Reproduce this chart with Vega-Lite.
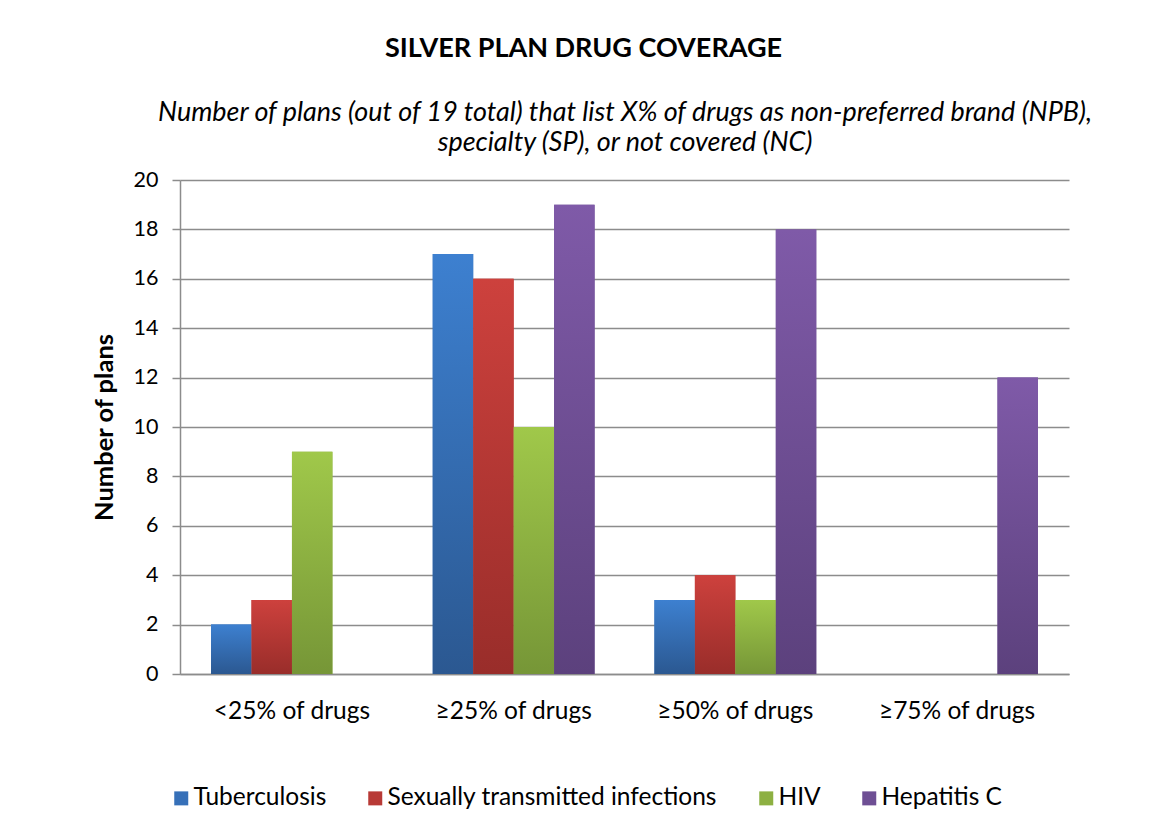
{
  "$schema": "https://vega.github.io/schema/vega-lite/v6.json",
  "width": 889,
  "height": 494,
  "autosize": {"type": "none"},
  "padding": {"left": 180, "top": 180, "right": 89, "bottom": 160},
  "background": "white",
  "title": {
    "text": "SILVER PLAN DRUG COVERAGE",
    "anchor": "middle",
    "frame": "group",
    "dx": -41,
    "font": "Lato",
    "fontSize": 27,
    "fontWeight": "bold",
    "color": "#000000",
    "offset": 36
  },
  "data": {
    "values": [
      {"group": "<25% of drugs", "series": "Tuberculosis", "plans": 2},
      {"group": "<25% of drugs", "series": "Sexually transmitted infections", "plans": 3},
      {"group": "<25% of drugs", "series": "HIV", "plans": 9},
      {"group": "<25% of drugs", "series": "Hepatitis C", "plans": 0},
      {"group": "≥25% of drugs", "series": "Tuberculosis", "plans": 17},
      {"group": "≥25% of drugs", "series": "Sexually transmitted infections", "plans": 16},
      {"group": "≥25% of drugs", "series": "HIV", "plans": 10},
      {"group": "≥25% of drugs", "series": "Hepatitis C", "plans": 19},
      {"group": "≥50% of drugs", "series": "Tuberculosis", "plans": 3},
      {"group": "≥50% of drugs", "series": "Sexually transmitted infections", "plans": 4},
      {"group": "≥50% of drugs", "series": "HIV", "plans": 3},
      {"group": "≥50% of drugs", "series": "Hepatitis C", "plans": 18},
      {"group": "≥75% of drugs", "series": "Tuberculosis", "plans": 0},
      {"group": "≥75% of drugs", "series": "Sexually transmitted infections", "plans": 0},
      {"group": "≥75% of drugs", "series": "HIV", "plans": 0},
      {"group": "≥75% of drugs", "series": "Hepatitis C", "plans": 12}
    ]
  },
  "encoding": {
    "xOffset": {
      "field": "series",
      "type": "nominal",
      "scale": {"domain": ["Tuberculosis", "Sexually transmitted infections", "HIV", "Hepatitis C"], "paddingInner": 0, "paddingOuter": 0}
    },
    "y": {
      "field": "plans",
      "type": "quantitative",
      "scale": {"domain": [0, 20]},
      "axis": {
        "title": "Number of plans",
        "titleFont": "Lato",
        "titleFontSize": 25.5,
        "titleFontWeight": "bold",
        "titleColor": "#000000",
        "titlePadding": 16,
        "values": [0, 2, 4, 6, 8, 10, 12, 14, 16, 18, 20],
        "labelFont": "Lato",
        "labelFontSize": 21.5,
        "labelColor": "#000000",
        "labelPadding": 14,
        "tickSize": 8,
        "tickColor": "#8c8c8c",
        "tickWidth": 1.5,
        "domainColor": "#8c8c8c",
        "domainWidth": 1.5,
        "gridColor": "#8c8c8c",
        "gridWidth": 1.5
      }
    }
  },
  "layer": [
    {
      "encoding": {
        "x": {
          "field": "group",
          "type": "nominal",
          "sort": ["<25% of drugs", "≥25% of drugs", "≥50% of drugs", "≥75% of drugs"],
          "scale": {"paddingInner": 0.27, "paddingOuter": 0.14},
          "axis": {
            "title": null,
            "orient": "bottom",
            "labelAngle": 0,
            "labelFont": "Lato",
            "labelFontSize": 24.5,
            "labelColor": "#000000",
            "labelPadding": 25,
            "ticks": false,
            "domainColor": "#8c8c8c",
            "domainWidth": 1.5,
            "grid": false
          }
        }
      },
      "layer": [
        {
          "mark": {"type": "bar"},
          "encoding": {
            "color": {
              "field": "series",
              "type": "nominal",
              "scale": {
                "domain": ["Tuberculosis", "Sexually transmitted infections", "HIV", "Hepatitis C"],
                "range": ["#3670b8", "#b83a36", "#8db042", "#6e4f94"]
              },
              "legend": {
                "title": null,
                "orient": "none",
                "legendX": -11,
                "legendY": 606,
                "direction": "horizontal",
                "columns": 4,
                "symbolType": "square",
                "symbolSize": 196,
                "symbolStrokeWidth": 0,
                "symbolOpacity": 1,
                "labelFont": "Lato",
                "labelFontSize": 24.5,
                "labelColor": "#000000",
                "labelLimit": 400,
                "labelOffset": 0,
                "columnPadding": 36
              }
            }
          }
        },
        {
          "transform": [{"filter": {"field": "series", "equal": "Tuberculosis"}}],
          "mark": {"type": "bar", "color": {"gradient": "linear", "x1": 0, "y1": 0, "x2": 0, "y2": 1, "stops": [{"offset": 0, "color": "#3d80d0"}, {"offset": 1, "color": "#2b5891"}]}}
        },
        {
          "transform": [{"filter": {"field": "series", "equal": "Sexually transmitted infections"}}],
          "mark": {"type": "bar", "color": {"gradient": "linear", "x1": 0, "y1": 0, "x2": 0, "y2": 1, "stops": [{"offset": 0, "color": "#cd413d"}, {"offset": 1, "color": "#992d2a"}]}}
        },
        {
          "transform": [{"filter": {"field": "series", "equal": "HIV"}}],
          "mark": {"type": "bar", "color": {"gradient": "linear", "x1": 0, "y1": 0, "x2": 0, "y2": 1, "stops": [{"offset": 0, "color": "#a0c84a"}, {"offset": 1, "color": "#769637"}]}}
        }
      ]
    },
    {
      "transform": [{"filter": {"field": "series", "equal": "Hepatitis C"}}],
      "mark": {"type": "bar", "color": {"gradient": "linear", "x1": 0, "y1": 0, "x2": 0, "y2": 1, "stops": [{"offset": 0, "color": "#7f5aa8"}, {"offset": 1, "color": "#5c417d"}]}},
      "encoding": {
        "x": {
          "field": "group",
          "type": "nominal",
          "sort": ["<25% of drugs", "≥25% of drugs", "≥50% of drugs", "≥75% of drugs"],
          "axis": {
            "orient": "top",
            "title": ["Number of plans (out of 19 total) that list X% of drugs as non-preferred brand (NPB),", "specialty (SP), or not covered (NC)"],
            "titleFont": "Lato",
            "titleFontSize": 26.9,
            "titleFontStyle": "italic",
            "titleFontWeight": "normal",
            "titleColor": "#000000",
            "titleLineHeight": 30,
            "titlePadding": 23.5,
            "labels": false,
            "ticks": false,
            "domain": false,
            "grid": false
          }
        }
      }
    }
  ],
  "resolve": {"axis": {"x": "independent"}},
  "config": {
    "view": {"stroke": null}
  }
}
